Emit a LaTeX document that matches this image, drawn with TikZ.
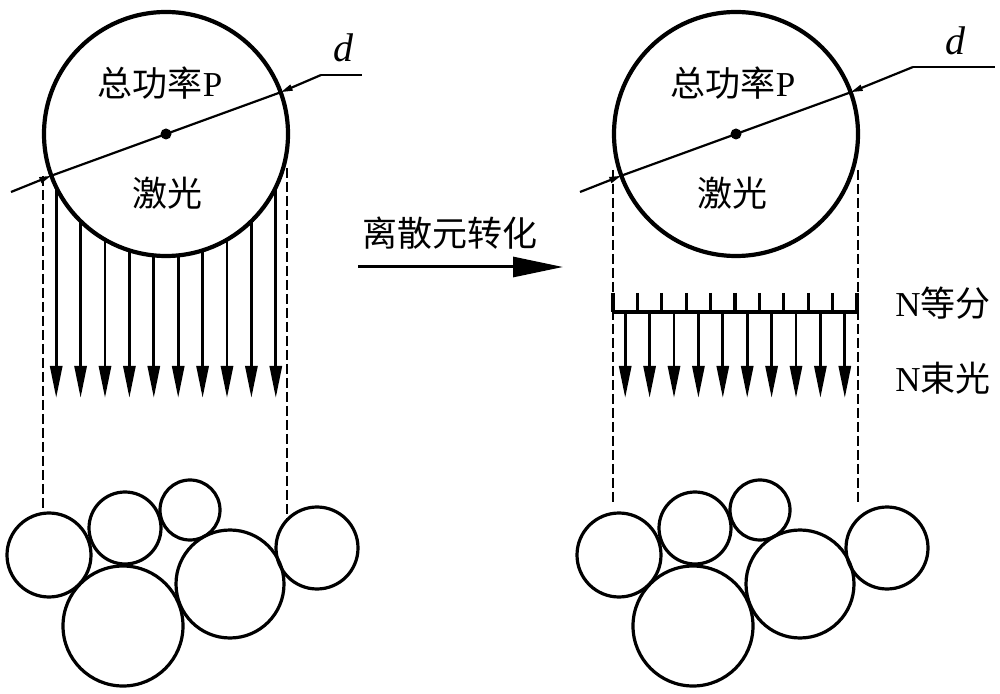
\documentclass[tikz,border=0pt]{standalone}
\usepackage{fontspec}
\setmainfont{Liberation Serif}
\newfontfamily\cjk{Noto Sans CJK SC}
\usetikzlibrary{arrows.meta}
\tikzset{beam/.style={circle,draw,line width=2.1pt,inner sep=0,outer sep=0,minimum size=122pt},
  grain/.style={circle,draw,line width=1.6pt,inner sep=0,outer sep=0,minimum size=#1},
  ray/.style={line width=1.4pt,-{Triangle[length=16pt,width=6pt]}},
  guide/.style={line width=1.4pt,dash pattern=on 5pt off 2pt},
  dimline/.style={line width=1.1pt,-{Triangle[length=6pt,width=3pt]}},
  lbl/.style={font=\fontsize{17.5}{20}\selectfont,inner sep=0}
}

\begin{document}
\begin{tikzpicture}[x=0.5pt,y=-0.5pt]
  \useasboundingbox (0,0) rectangle (1000,694);
  % laser spots
  \node[beam] (PL) at (166,134) {};
  \node[beam] (PR) at (736,134) {};
  \fill (PL) circle (5.5);
  \fill (PR) circle (5.5);
  \node[lbl] (TL) at (160,83) {{\cjk 总功率}P};
  \node[lbl] (TR) at (733,83) {{\cjk 总功率}P};
  \node[lbl] (GL) at (167,193) {\cjk 激光};
  \node[lbl] (GR) at (732,193) {\cjk 激光};
  % diameter d
  \coordinate (L0) at (11,192);
  \coordinate (L3) at (321,75);
  \coordinate (L4) at (362,75);
  \coordinate (R0) at (580,192);
  \coordinate (R3) at (913,67);
  \coordinate (R4) at (995,67);
  \draw[dimline] (L0) -- (PL.200.6);
  \draw[line width=1.1pt] (PL.200.6) -- (PL.20.6);
  \draw[dimline] (L3) -- (PL.20.6);
  \draw[line width=1.1pt] (L3) -- (L4);
  \draw[dimline] (R0) -- (PR.200.6);
  \draw[line width=1.1pt] (PR.200.6) -- (PR.20.6);
  \draw[dimline] (R3) -- (PR.20.6);
  \draw[line width=1.1pt] (R3) -- (R4);
  \node[font=\fontsize{20}{22}\selectfont\itshape,inner sep=0,anchor=base] (DL) at (343,62) {d};
  \node[font=\fontsize{20}{22}\selectfont\itshape,inner sep=0,anchor=base] (DR) at (955,55) {d};
  % left: continuous beam
  \foreach \i in {0,...,9} {
    \pgfmathsetmacro\dx{24.4*\i-109.8}
    \pgfmathsetmacro\dy{sqrt(122*122-\dx*\dx)}
    \draw[ray] (\dx+166,\dy+134) -- (\dx+166,398);
  }
  \draw[guide] (43,176) -- (43,513);
  \draw[guide] (287,168) -- (287,520);
  % right: N parts, N beams
  \coordinate (B0) at (613,312);
  \coordinate (B1) at (857,312);
  \draw[line width=1.8pt] (B0) -- (B1);
  \foreach \i in {0,...,10}
    \draw[line width=1.6pt] (613+24.4*\i,293) -- (613+24.4*\i,312);
  \foreach \i in {0,...,9}
    \draw[ray] (625.2+24.4*\i,312) -- (625.2+24.4*\i,398);
  \draw[guide] (613,170) -- (613,503);
  \draw[guide] (858,170) -- (858,503);
  \node[lbl,anchor=west] (NP) at (895,303) {N{\cjk 等分}};
  \node[lbl,anchor=west] (NB) at (895,378) {N{\cjk 束光}};
  % transformation arrow
  \node[lbl] (TX) at (450,233) {\cjk 离散元转化};
  \coordinate (X0) at (358,267);
  \coordinate (X1) at (563,267);
  \draw[line width=1.5pt,-{Triangle[length=25pt,width=10pt]}] (X0) -- (X1);
  % particles, left
  \node[grain=42pt] (A1) at (49,555) {};
  \node[grain=36pt] (A2) at (125,528) {};
  \node[grain=30pt] (A3) at (190,510) {};
  \node[grain=60pt] (A4) at (123,626) {};
  \node[grain=54pt] (A5) at (230,584) {};
  \node[grain=41pt] (A6) at (317,548) {};
  % particles, right
  \node[grain=42pt] (B1) at (619,555) {};
  \node[grain=36pt] (B2) at (695,528) {};
  \node[grain=30pt] (B3) at (760,510) {};
  \node[grain=60pt] (B4) at (693,626) {};
  \node[grain=54pt] (B5) at (800,584) {};
  \node[grain=41pt] (B6) at (887,548) {};
\end{tikzpicture}
\end{document}
